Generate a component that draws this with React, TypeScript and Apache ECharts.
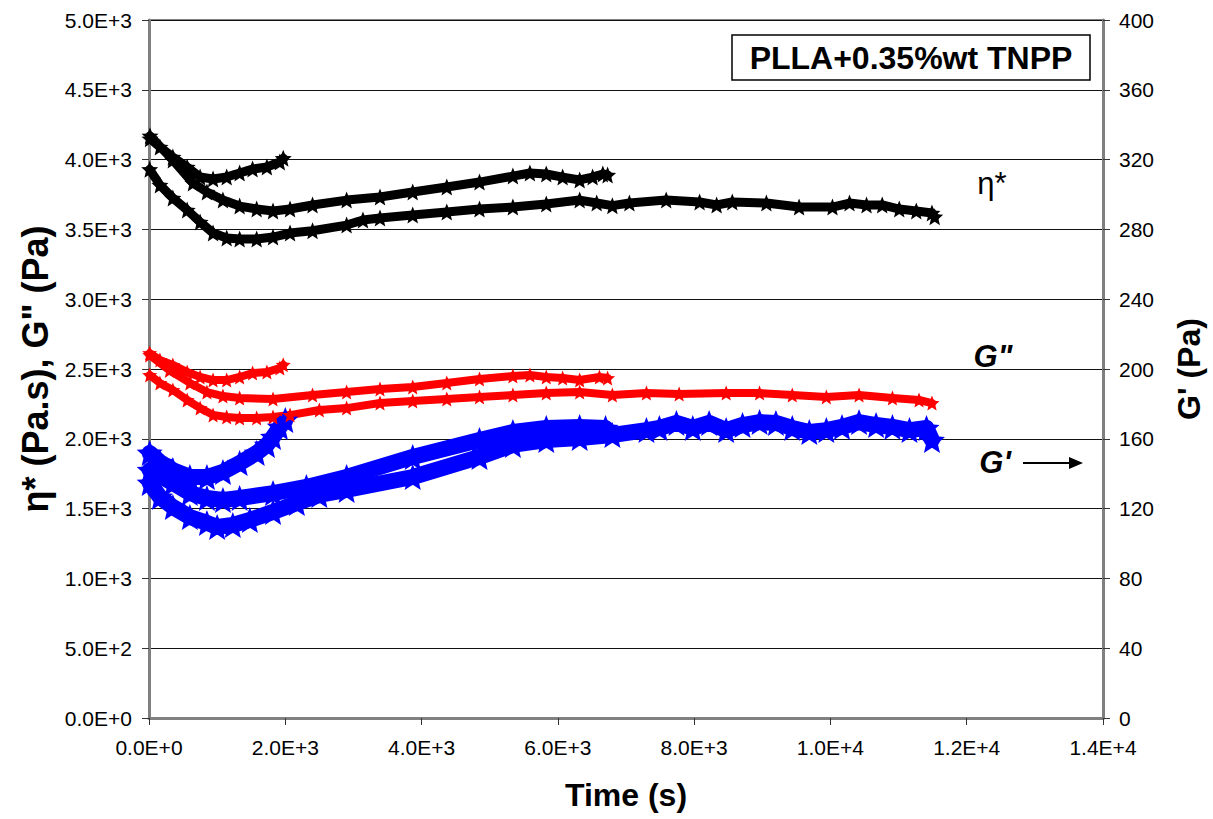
import React, { useEffect, useRef } from "react";
import * as echarts from "echarts";

// ---- tick labels ----
const xTickLabels = ["0.0E+0", "2.0E+3", "4.0E+3", "6.0E+3", "8.0E+3", "1.0E+4", "1.2E+4", "1.4E+4"];
const leftTickLabels = ["0.0E+0", "5.0E+2", "1.0E+3", "1.5E+3", "2.0E+3", "2.5E+3", "3.0E+3", "3.5E+3", "4.0E+3", "4.5E+3", "5.0E+3"];
const rightTickLabels = ["0", "40", "80", "120", "160", "200", "240", "280", "320", "360", "400"];

// ---- eta* (Pa.s), left axis ----
const tEtaA = [15, 160, 350, 560, 750, 940, 1140, 1330, 1520, 1730, 1920, 1970];
const vEtaA = [4150, 4090, 4018, 3947, 3875, 3861, 3875, 3904, 3932, 3947, 3983, 4010];

const tEtaB = [15, 350, 645, 850, 1085, 1330, 1580, 1820, 2070, 2400, 2900, 3390, 3870, 4370, 4850, 5340, 5590, 5830, 6070, 6320, 6510, 6660, 6730];
const vEtaB = [4170, 3997, 3832, 3768, 3710, 3667, 3646, 3632, 3646, 3675, 3710, 3732, 3768, 3804, 3839, 3882, 3904, 3897, 3875, 3854, 3875, 3897, 3890];

const tEtaC = [10, 160, 350, 560, 750, 940, 1140, 1330, 1580, 1820, 2070, 2400, 2900, 3140, 3390, 3870, 4370, 4850, 5340, 5830, 6320, 6570, 6800, 7050, 7590, 8080, 8330, 8560, 9060, 9540, 10030, 10280, 10530, 10760, 11010, 11260, 11490, 11530];
const vEtaC = [3930, 3818, 3725, 3639, 3553, 3474, 3438, 3431, 3431, 3445, 3474, 3490, 3531, 3567, 3582, 3603, 3624, 3646, 3660, 3682, 3710, 3689, 3670, 3689, 3710, 3696, 3675, 3696, 3689, 3660, 3660, 3689, 3675, 3675, 3646, 3632, 3617, 3590];

// ---- G'' (Pa), left axis ----
const tGppA = [10, 160, 350, 560, 750, 940, 1140, 1330, 1520, 1730, 1920, 1970];
const vGppA = [2614, 2564, 2529, 2478, 2443, 2421, 2421, 2443, 2471, 2478, 2507, 2530];

const tGppB = [10, 300, 600, 850, 1085, 1330, 1820, 2400, 2900, 3390, 3870, 4370, 4850, 5340, 5590, 5830, 6070, 6320, 6610, 6730];
const vGppB = [2600, 2490, 2400, 2335, 2306, 2292, 2285, 2314, 2335, 2357, 2371, 2400, 2428, 2450, 2457, 2443, 2435, 2421, 2443, 2435];

const tGppC = [10, 160, 350, 560, 750, 940, 1140, 1330, 1580, 1820, 2070, 2500, 2900, 3390, 3870, 4370, 4850, 5340, 5830, 6320, 6800, 7300, 7780, 8470, 8960, 9440, 9940, 10420, 10910, 11300, 11490];
const vGppC = [2457, 2400, 2350, 2278, 2220, 2170, 2156, 2149, 2149, 2156, 2170, 2206, 2220, 2256, 2271, 2285, 2300, 2314, 2328, 2335, 2314, 2328, 2321, 2328, 2328, 2314, 2300, 2314, 2292, 2278, 2256];

// ---- G' (Pa), right axis ----
const tGpA = [10, 160, 350, 600, 850, 1085, 1330, 1580, 1730, 1820, 1920, 2000];
const vGpA = [151.9, 146.7, 142.1, 138.1, 138.1, 141.0, 146.1, 151.9, 156.5, 161.0, 166.8, 170.8];

const tGpB = [10, 350, 600, 850, 1085, 1330, 1820, 2310, 2900, 3870, 4850, 5340, 5830, 6320, 6700];
const vGpB = [142.0, 134.7, 128.9, 126.1, 124.9, 126.1, 128.9, 132.4, 138.1, 149.6, 159.3, 163.9, 166.2, 166.8, 166.2];

const tGpC = [10, 160, 350, 600, 850, 1000, 1230, 1480, 1820, 2170, 2500, 2900, 3870, 4850, 5340, 5830, 6320, 6800, 7300, 7490, 7740, 7980, 8220, 8470, 8710, 8960, 9200, 9440, 9690, 9940, 10170, 10420, 10670, 10910, 11160, 11410, 11490];
const vGpC = [134.7, 126.7, 120.9, 115.2, 111.8, 109.5, 110.6, 113.5, 118.1, 123.2, 127.8, 130.7, 138.1, 149.6, 156.5, 159.3, 160.5, 162.2, 165.0, 166.2, 169.1, 166.2, 169.1, 165.0, 167.9, 169.6, 169.1, 166.2, 163.9, 165.0, 166.8, 169.6, 167.9, 166.8, 165.0, 166.2, 159.3];

const STAR = "path://M0,-10 L2.6,-3.6 L9.5,-3.1 L4.2,1.4 L5.9,8.1 L0,4.4 L-5.9,8.1 L-4.2,1.4 L-9.5,-3.1 L-2.6,-3.6 Z";
const FONT = "'Liberation Sans', Arial, sans-serif";

function pairs(t: number[], v: number[]) {
  return t.map((x, i) => [x, v[i]]);
}

function runSeries(name: string, t: number[], v: number[], color: string, yAxisIndex: number, lw: number, sz: number) {
  return {
    name,
    type: "line",
    yAxisIndex,
    data: pairs(t, v),
    symbol: STAR,
    symbolSize: sz,
    showSymbol: true,
    lineStyle: { color, width: lw, cap: "round", join: "round" },
    itemStyle: { color, borderWidth: 0 },
    silent: true,
  };
}

export default function App() {
  const ref = useRef<HTMLDivElement>(null);
  useEffect(() => {
    if (!ref.current) return;
    const chart = echarts.init(ref.current, null, { renderer: "svg" });
    const axisGray = "#808080";
    chart.setOption({
      animation: false,
      backgroundColor: "#ffffff",
      grid: { left: 149, right: 109, top: 20, bottom: 101, show: true, borderColor: axisGray, borderWidth: 2 },
      xAxis: {
        type: "value",
        min: 0,
        max: 14000,
        interval: 2000,
        name: "Time (s)",
        nameLocation: "middle",
        nameGap: 61,
        nameTextStyle: { fontFamily: FONT, fontSize: 32, fontWeight: "bold", color: "#000" },
        axisLine: { show: true, lineStyle: { color: axisGray, width: 3 } },
        axisTick: { show: true, inside: false, length: 7, lineStyle: { color: "#333", width: 1 } },
        axisLabel: {
          fontFamily: FONT,
          fontSize: 21,
          color: "#000",
          margin: 19,
          formatter: (v: number) => xTickLabels[Math.round(v / 2000)] ?? "",
        },
        splitLine: { show: false },
      },
      yAxis: [
        {
          type: "value",
          min: 0,
          max: 5000,
          interval: 500,
          position: "left",
          name: "η* (Pa.s), G\" (Pa)",
          nameLocation: "middle",
          nameRotate: 90,
          nameGap: 91,
          nameTextStyle: { fontFamily: FONT, fontSize: 36, fontWeight: "bold", color: "#000" },
          axisLine: { show: true, lineStyle: { color: axisGray, width: 3 } },
          axisTick: { show: true, inside: false, length: 7, lineStyle: { color: "#333", width: 1 } },
          axisLabel: {
            fontFamily: FONT,
            fontSize: 21,
            color: "#000",
            margin: 17,
            formatter: (v: number) => leftTickLabels[Math.round(v / 500)] ?? "",
          },
          splitLine: { show: true, lineStyle: { color: "#111", width: 1 } },
        },
        {
          type: "value",
          min: 0,
          max: 400,
          interval: 40,
          position: "right",
          name: "G' (Pa)",
          nameLocation: "middle",
          nameRotate: 90,
          nameGap: 70,
          nameTextStyle: { fontFamily: FONT, fontSize: 32, fontWeight: "bold", color: "#000" },
          axisLine: { show: true, lineStyle: { color: axisGray, width: 3 } },
          axisTick: { show: true, inside: false, length: 7, lineStyle: { color: "#333", width: 1 } },
          axisLabel: {
            fontFamily: FONT,
            fontSize: 21,
            color: "#000",
            margin: 16,
            formatter: (v: number) => rightTickLabels[Math.round(v / 40)] ?? "",
          },
          splitLine: { show: false },
        },
      ],
      series: [
        runSeries("G' run 3", tGpC, vGpC, "#0000ff", 1, 16, 26),
        runSeries("G' run 2", tGpB, vGpB, "#0000ff", 1, 16, 26),
        runSeries("G' run 1", tGpA, vGpA, "#0000ff", 1, 16, 26),
        runSeries("G'' run 3", tGppC, vGppC, "#ff0000", 0, 8, 15),
        runSeries("G'' run 2", tGppB, vGppB, "#ff0000", 0, 8, 15),
        runSeries("G'' run 1", tGppA, vGppA, "#ff0000", 0, 8, 15),
        runSeries("eta* run 3", tEtaC, vEtaC, "#000000", 0, 9, 17),
        runSeries("eta* run 2", tEtaB, vEtaB, "#000000", 0, 9, 17),
        runSeries("eta* run 1", tEtaA, vEtaA, "#000000", 0, 9, 17),
      ],
      graphic: [
        {
          type: "rect",
          shape: { x: 732, y: 35, width: 358, height: 45 },
          style: { fill: "#ffffff", stroke: "#000", lineWidth: 1.5 },
          z: 100,
        },
        {
          type: "text",
          x: 911,
          y: 58,
          style: {
            text: "PLLA+0.35%wt TNPP",
            fontFamily: FONT,
            fontSize: 32,
            fontWeight: "bold",
            fill: "#000",
            align: "center",
            verticalAlign: "middle",
          },
          z: 101,
        },
        {
          type: "text",
          x: 992,
          y: 183,
          style: { text: "η*", fontFamily: FONT, fontSize: 31, fill: "#000", align: "center", verticalAlign: "middle" },
          z: 101,
        },
        {
          type: "text",
          x: 993,
          y: 356,
          style: { text: "G\"", fontFamily: FONT, fontSize: 31, fontWeight: "bold", fontStyle: "italic", fill: "#000", align: "center", verticalAlign: "middle" },
          z: 101,
        },
        {
          type: "text",
          x: 995,
          y: 462,
          style: { text: "G'", fontFamily: FONT, fontSize: 31, fontWeight: "bold", fontStyle: "italic", fill: "#000", align: "center", verticalAlign: "middle" },
          z: 101,
        },
        {
          type: "line",
          shape: { x1: 1023, y1: 463, x2: 1070, y2: 463 },
          style: { stroke: "#000", lineWidth: 2 },
          z: 101,
        },
        {
          type: "polygon",
          shape: { points: [[1083, 463], [1069, 457], [1069, 469]] },
          style: { fill: "#000" },
          z: 101,
        },
      ],
    });
    return () => chart.dispose();
  }, []);
  return <div ref={ref} style={{ position: "fixed", left: 0, top: 0, width: 1213, height: 819 }} />;
}
